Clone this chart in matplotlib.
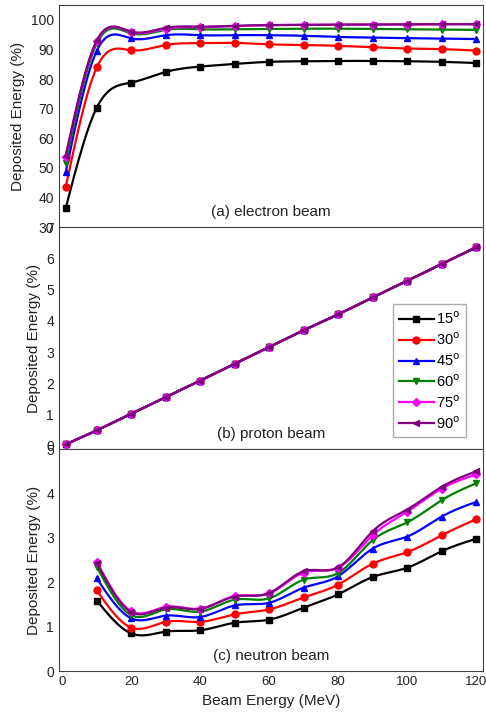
import numpy as np
import matplotlib
matplotlib.use("Agg")
import matplotlib.pyplot as plt

plt.rcParams['font.family'] = ['Liberation Sans', 'DejaVu Sans']

# Beam energies (MeV)
energy = [1, 10, 20, 30, 40, 50, 60, 70, 80, 90, 100, 110, 120]
energy_n = [10, 20, 30, 40, 50, 60, 70, 80, 90, 100, 110, 120]

angles = ["15", "30", "45", "60", "75", "90"]
colors = ["black", "red", "blue", "green", "magenta", "purple"]
markers = ["s", "o", "^", "v", "D", "<"]

# (a) electron beam
electron = [
    [36.4, 70.3, 78.8, 82.4, 84.2, 85.1, 85.8, 86.0, 86.1, 86.1, 86.0, 85.8, 85.4],
    [43.5, 83.9, 89.7, 91.5, 92.1, 92.2, 91.7, 91.5, 91.2, 90.7, 90.3, 90.1, 89.6],
    [48.5, 89.5, 93.7, 94.8, 94.8, 94.8, 94.8, 94.6, 94.2, 94.0, 93.8, 93.7, 93.5],
    [51.7, 92.0, 95.4, 96.6, 96.8, 96.8, 96.9, 97.0, 97.0, 96.9, 96.8, 96.7, 96.6],
    [53.7, 92.8, 95.8, 97.0, 97.5, 97.9, 98.2, 98.3, 98.3, 98.4, 98.4, 98.5, 98.5],
    [54.1, 93.0, 96.0, 97.3, 97.7, 98.0, 98.2, 98.3, 98.4, 98.4, 98.5, 98.5, 98.5],
]

# (b) proton beam (all angles coincide)
proton_vals = [0.05, 0.50, 1.03, 1.56, 2.09, 2.63, 3.17, 3.70, 4.21, 4.75, 5.28, 5.82, 6.35]
proton = [proton_vals] * 6

# (c) neutron beam
neutron = [
    [1.59, 0.85, 0.89, 0.92, 1.09, 1.16, 1.43, 1.73, 2.12, 2.33, 2.70, 2.98],
    [1.82, 0.98, 1.11, 1.11, 1.28, 1.39, 1.66, 1.95, 2.42, 2.68, 3.06, 3.42],
    [2.09, 1.19, 1.25, 1.22, 1.48, 1.54, 1.88, 2.14, 2.76, 3.03, 3.48, 3.81],
    [2.35, 1.26, 1.39, 1.34, 1.61, 1.64, 2.06, 2.21, 2.95, 3.35, 3.85, 4.23],
    [2.46, 1.35, 1.45, 1.41, 1.69, 1.75, 2.22, 2.33, 3.06, 3.59, 4.11, 4.43],
    [2.44, 1.33, 1.43, 1.40, 1.68, 1.76, 2.25, 2.34, 3.15, 3.64, 4.15, 4.50],
]


def spline(x, y, n=400):
    # natural cubic spline, used only to draw the smoothed connecting line
    x = np.asarray(x, float)
    y = np.asarray(y, float)
    k = len(x)
    h = np.diff(x)
    A = np.zeros((k, k))
    b = np.zeros(k)
    A[0, 0] = A[-1, -1] = 1
    for i in range(1, k - 1):
        A[i, i - 1] = h[i - 1]
        A[i, i] = 2 * (h[i - 1] + h[i])
        A[i, i + 1] = h[i]
        b[i] = 3 * ((y[i + 1] - y[i]) / h[i] - (y[i] - y[i - 1]) / h[i - 1])
    c = np.linalg.solve(A, b)
    xs = np.linspace(x[0], x[-1], n)
    idx = np.clip(np.searchsorted(x, xs) - 1, 0, k - 2)
    dx = xs - x[idx]
    bb = (y[idx + 1] - y[idx]) / h[idx] - h[idx] * (2 * c[idx] + c[idx + 1]) / 3
    dd = (c[idx + 1] - c[idx]) / (3 * h[idx])
    ys = y[idx] + bb * dx + c[idx] * dx ** 2 + dd * dx ** 3
    return xs, ys


fig = plt.figure(figsize=(4.86, 7.14), dpi=100)
fig.subplots_adjust(left=0.121, right=0.994, bottom=0.06, top=0.993, hspace=0)
axes = fig.subplots(3, 1, sharex=True)

panels = [
    (axes[0], energy, electron, (30, 105), [30, 40, 50, 60, 70, 80, 90, 100], "(a) electron beam"),
    (axes[1], energy, proton, (-0.1, 7), [0, 1, 2, 3, 4, 5, 6, 7], "(b) proton beam"),
    (axes[2], energy_n, neutron, (0, 5), [0, 1, 2, 3, 4, 5], "(c) neutron beam"),
]

for ax, xs, data, ylim, yt, label in panels:
    for i, ys in enumerate(data):
        ms = 4.5 if markers[i] == "D" else 5
        sx, sy = spline(xs, ys)
        ax.plot(sx, sy, color=colors[i], lw=1.6, zorder=2 + i)
        ax.plot(xs, ys, ls="none", marker=markers[i], color=colors[i],
                ms=ms, zorder=2 + i)
        ax.plot([], [], color=colors[i], marker=markers[i], lw=1.6,
                ms=ms, label=angles[i] + r"$^{\rm o}$")
    ax.set_ylim(*ylim)
    ax.set_yticks(yt)
    ax.tick_params(length=0, labelsize=10, colors="#222222")
    ax.set_ylabel("Deposited Energy (%)", fontsize=11, color="#222222")
    ax.text(0.5, 0.07, label, transform=ax.transAxes, ha="center", va="center",
            fontsize=11, color="#222222")
    for s in ax.spines.values():
        s.set_color("#444444")

axes[2].set_xlim(-1, 122)
axes[2].set_xticks([0, 20, 40, 60, 80, 100, 120])
axes[2].tick_params(axis="x", labelsize=9.5)
axes[2].set_xlabel("Beam Energy (MeV)", fontsize=11, color="#222222")

axes[1].legend(loc="lower right", bbox_to_anchor=(0.978, 0.02), fontsize=10.5,
               fancybox=False, edgecolor="#999999", handlelength=2.4,
               handletextpad=0.2, labelspacing=0.3, borderpad=0.4)

fig.savefig("out.png", dpi=100)
